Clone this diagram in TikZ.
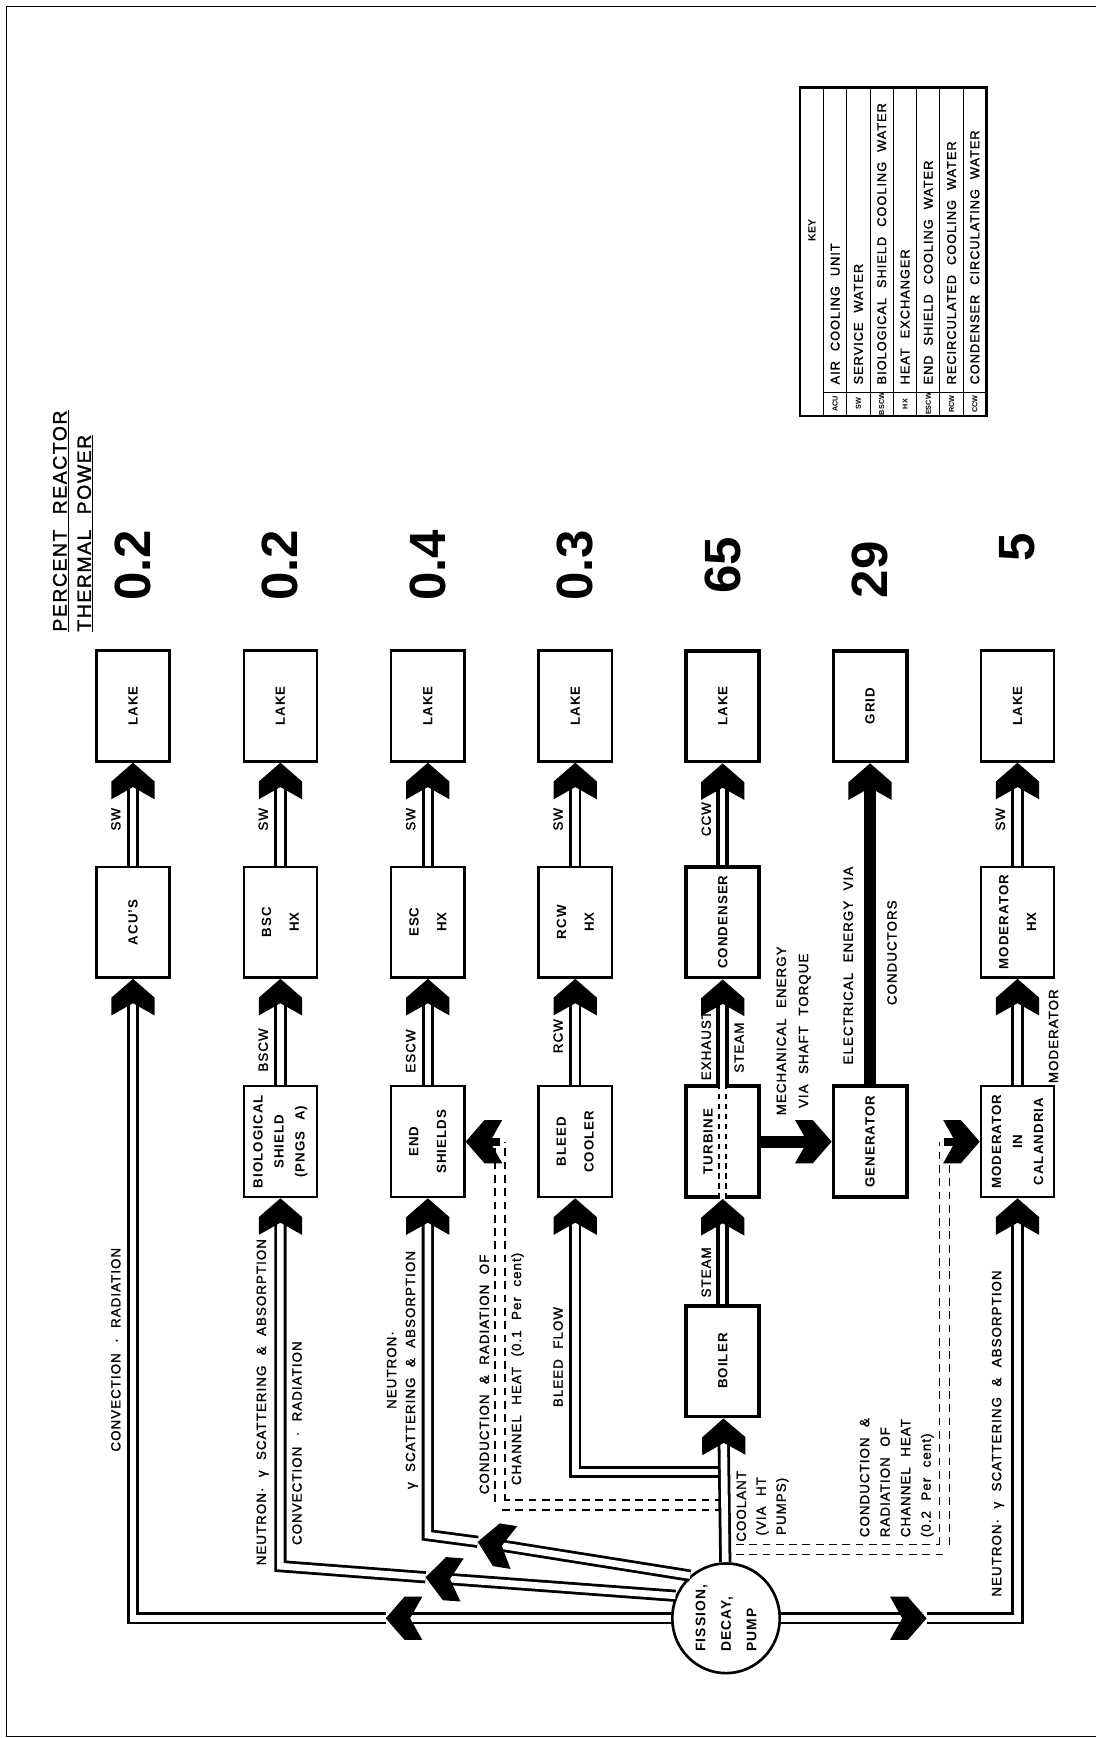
\documentclass[tikz,border=0pt]{standalone}
\usepackage{fontspec}
\setmainfont{Liberation Sans}[WordSpace=2.2, LetterSpace=8]
\newfontfamily\plainsans{Liberation Sans}
\newfontfamily\lblfont{Liberation Sans}[WordSpace=2.2, LetterSpace=8, FakeBold=1.5]
\usetikzlibrary{positioning, arrows.meta, shapes.geometric, decorations.markings}

\tikzset{
  unitbox/.style={draw, line width=2.2pt, fill=white, minimum width=100pt, minimum height=66pt,
    inner sep=1pt, align=center, font=\fontsize{12}{19}\selectfont\bfseries},
  heavy/.style={line width=3.4pt},
  dart/.style={postaction={decorate, decoration={markings, mark=at position 1 with
    {\fill[shorten >=0pt, shorten <=0pt] (0pt,0pt) -- (-17pt,19.5pt) -- (-33pt,19.5pt) -- (-22pt,0pt)
      -- (-33pt,-19.5pt) -- (-17pt,-19.5pt) -- cycle;}}}},
  pipe/.style={double, double distance=6pt, line width=2.5pt, shorten >=15pt, dart},
  fatpipe/.style={double, double distance=5pt, line width=3.2pt, shorten >=15pt, dart},
  dashpipe/.style={double, double distance=7.5pt, line width=1.5pt, dash pattern=on 7pt off 5pt},
  stub/.style={line width=7pt, shorten >=15pt, dart},
  bar/.style={line width=11pt, shorten >=15pt, dart},
  lbl/.style={font=\lblfont\fontsize{12}{18}\selectfont, inner sep=0pt},
  pct/.style={font=\plainsans\fontsize{46}{46}\selectfont\bfseries, inner sep=0pt},
  keytxt/.style={font=\lblfont\fontsize{11.5}{12}\selectfont, inner sep=0pt},
  abtxt/.style={font=\plainsans\fontsize{6.5}{7}\selectfont\bfseries, inner sep=0pt},
}

\begin{document}
\begin{tikzpicture}[rotate=90, transform shape, x=1pt, y=1pt]
  \useasboundingbox (0,0) rectangle (1568,989);
  \draw[line width=1.5pt] (1.5,0) -- (1.5,983) -- (1562,983) -- (1562,0);

  % heading and percentages
  \node[lbl, font=\lblfont\fontsize{17.5}{22}\selectfont, align=left, anchor=west] (head) at (998,923)
    {\underline{PERCENT REACTOR}\\\underline{THERMAL POWER}};
  \node[pct] (pA) at (1058,869) {0.2};
  \node[pct] (pB) at (1058,736) {0.2};
  \node[pct] (pC) at (1058,603) {0.4};
  \node[pct] (pD) at (1058,470) {0.3};
  \node[pct] (pE) at (1058,337) {65};
  \node[pct] (pF) at (1054,204) {29};
  \node[pct] (pG) at (1074,71) {5};

  % key
  \draw[line width=2pt] (1193,99) rectangle (1489,267);
  \draw[line width=1pt] (1193,246) -- (1489,246);
  \draw[line width=1pt] (1214,99) -- (1214,246);
  \foreach \y in {120,141,...,225} \draw[line width=1pt] (1193,\y) -- (1489,\y);
  \node[abtxt, font=\plainsans\fontsize{9.5}{10}\selectfont\bfseries] (key) at (1360,256.5) {KEY};
  \foreach \ab/\mean [count=\i] in {ACU/AIR COOLING UNIT, SW/SERVICE WATER,
      BSCW/BIOLOGICAL SHIELD COOLING WATER, HX/HEAT EXCHANGER, ESCW/END SHIELD COOLING WATER,
      RCW/RECIRCULATED COOLING WATER, CCW/CONDENSER CIRCULATING WATER}
    \node[abtxt] (abbr\i) at (1203.5,256.5-21*\i) {\ab}
      node[keytxt, anchor=west] (mean\i) at (1221,256.5-21*\i) {\mean};

  % boxes
  \node[unitbox] (lakeA) at (931,869) {LAKE};
  \node[unitbox] (lakeB) at (931,736) {LAKE};
  \node[unitbox] (lakeC) at (931,603) {LAKE};
  \node[unitbox] (lakeD) at (931,470) {LAKE};
  \node[unitbox, heavy] (lakeE) at (931,337) {LAKE};
  \node[unitbox, heavy] (grid) at (931,204) {GRID};
  \node[unitbox] (lakeG) at (931,71) {LAKE};

  \node[unitbox] (acu) at (736,869) {ACU'S};
  \node[unitbox] (bschx) at (736,736) {BSC\\[6pt]HX};
  \node[unitbox] (eschx) at (736,603) {ESC\\[6pt]HX};
  \node[unitbox] (rcwhx) at (736,470) {RCW\\[6pt]HX};
  \node[unitbox, heavy] (cond) at (736,337) {CONDENSER};
  \node[unitbox] (modhx) at (736,71) {MODERATOR\\[6pt]HX};

  \node[unitbox] (bio) at (538,736) {BIOLOGICAL\\SHIELD\\(PNGS A)};
  \node[unitbox] (endsh) at (538,603) {END\\[6pt]SHIELDS};
  \node[unitbox] (bleed) at (538,470) {BLEED\\[6pt]COOLER};
  \node[unitbox, heavy] (turb) at (538,337) {\raisebox{9pt}[0pt][0pt]{TURBINE}};
  \node[unitbox, heavy] (gen) at (538,204) {GENERATOR};
  \node[unitbox] (modcal) at (538,71) {MODERATOR\\IN\\CALANDRIA};

  \node[unitbox, heavy] (boiler) at (340,337) {BOILER};
  \node[draw, ellipse, line width=2.4pt, fill=white, minimum width=99pt, minimum height=97pt,
        inner sep=0pt, align=left, font=\fontsize{12.5}{23}\selectfont\bfseries] (fis) at (108,334)
        {FISSION,\\DECAY,\\PUMP};

  % heat to the lake
  \draw[pipe] (acu) -- (lakeA) node[lbl, pos=.45, above=10pt] (swA) {SW};
  \draw[pipe] (bschx) -- (lakeB) node[lbl, pos=.45, above=10pt] (swB) {SW};
  \draw[pipe] (eschx) -- (lakeC) node[lbl, pos=.45, above=10pt] (swC) {SW};
  \draw[pipe] (rcwhx) -- (lakeD) node[lbl, pos=.45, above=10pt] (swD) {SW};
  \draw[fatpipe] (cond) -- (lakeE) node[lbl, pos=.45, above=9pt] (ccw) {CCW};
  \draw[pipe] (modhx) -- (lakeG) node[lbl, pos=.45, above=10pt] (swG) {SW};
  \draw[bar] (gen) -- (grid)
    node[lbl, pos=.37, above=10pt] (elec) {ELECTRICAL ENERGY VIA}
    node[lbl, pos=.41, below=10pt] (wires) {CONDUCTORS};

  % cooling circuits
  \draw[pipe] (bio) -- (bschx) node[lbl, pos=.33, above=10pt] (bscw) {BSCW};
  \draw[pipe] (endsh) -- (eschx) node[lbl, pos=.32, above=10pt] (escw) {ESCW};
  \draw[pipe] (bleed) -- (rcwhx) node[lbl, pos=.46, above=10pt] (rcw) {RCW};
  \draw[fatpipe] (turb) -- (cond)
    node[lbl, pos=.37, above=9pt] (exh) {EXHAUST}
    node[lbl, pos=.35, below=9pt] (stmB) {STEAM};
  \draw[pipe] (modcal) -- (modhx) node[lbl, pos=.46, below=27pt] (modlbl) {MODERATOR};
  \draw[double, double distance=5pt, line width=1.5pt, dash pattern=on 5pt off 4pt] (turb.west) -- (turb.east);
  \draw[bar] (turb) -- (gen);
  \node[lbl, align=center, font=\lblfont\fontsize{12}{20}\selectfont] (mech) at (638,273)
    {MECHANICAL ENERGY\\VIA SHAFT TORQUE};
  \draw[fatpipe] (boiler) -- (turb) node[lbl, pos=.3, above=9pt] (stmA) {STEAM};

  % channel heat and bleed
  \draw[pipe] (240,337) |- (bleed) node[lbl, pos=.71, above=10pt] (bleedlbl) {BLEED FLOW};
  \coordinate (dashL) at (538,538);
  \coordinate (dashR) at (538,137);
  \draw[dashpipe] (210,337) -- (210,538) -- (dashL);
  \draw[dashpipe] (170,337) -- (170,137) -- (dashR);
  \draw[stub] (dashL) -- (endsh);
  \draw[stub] (dashR) -- (modcal);
  \node[lbl] (chA) at (328,552) {CONDUCTION \& RADIATION OF};
  \node[lbl] (chB) at (333,522) {CHANNEL HEAT (0.1 Per cent)};
  \node[lbl, align=left, anchor=west, font=\lblfont\fontsize{12}{18.5}\selectfont] (chC) at (181,180)
    {CONDUCTION \&\\RADIATION OF\\CHANNEL HEAT\\(0.2 Per cent)};

  % coolant
  \draw[pipe] (fis) -- (boiler);
  \node[lbl, align=center] (cool) at (209,301) {COOLANT\\(VIA HT\\PUMPS)};

  % convection and radiation
  \coordinate (convtip) at (108,641);
  \draw[pipe] (fis) -- (convtip);
  \draw[pipe] (convtip) |- (acu) node[lbl, pos=.71, above=10pt] (convA) {CONVECTION · RADIATION};

  % neutron and gamma heating
  \coordinate (biotip) at (145,605);
  \coordinate (biobend) at (155,736);
  \draw[pipe] (fis.66) -- (biotip);
  \draw[pipe] (biotip) -- (biobend) -- (bio);
  \node[lbl] (neuB) at (303,752) {NEUTRON· γ SCATTERING \& ABSORPTION};
  \node[lbl] (convB) at (266,721) {CONVECTION · RADIATION};

  \coordinate (endtip) at (177,558);
  \coordinate (endbend) at (183,603);
  \draw[pipe] (fis.40) -- (endtip);
  \draw[pipe] (endtip) -- (endbend) -- (endsh);
  \node[lbl, align=center, font=\lblfont\fontsize{12}{17}\selectfont] (neuC) at (332,626)
    {NEUTRON·\\γ SCATTERING \& ABSORPTION};

  \coordinate (modtip) at (108,153);
  \draw[pipe] (fis) -- (modtip);
  \draw[pipe] (modtip) |- (modcal) node[lbl, pos=.72, above=11pt] (neuG) {NEUTRON· γ SCATTERING \& ABSORPTION};
\end{tikzpicture}
\end{document}
